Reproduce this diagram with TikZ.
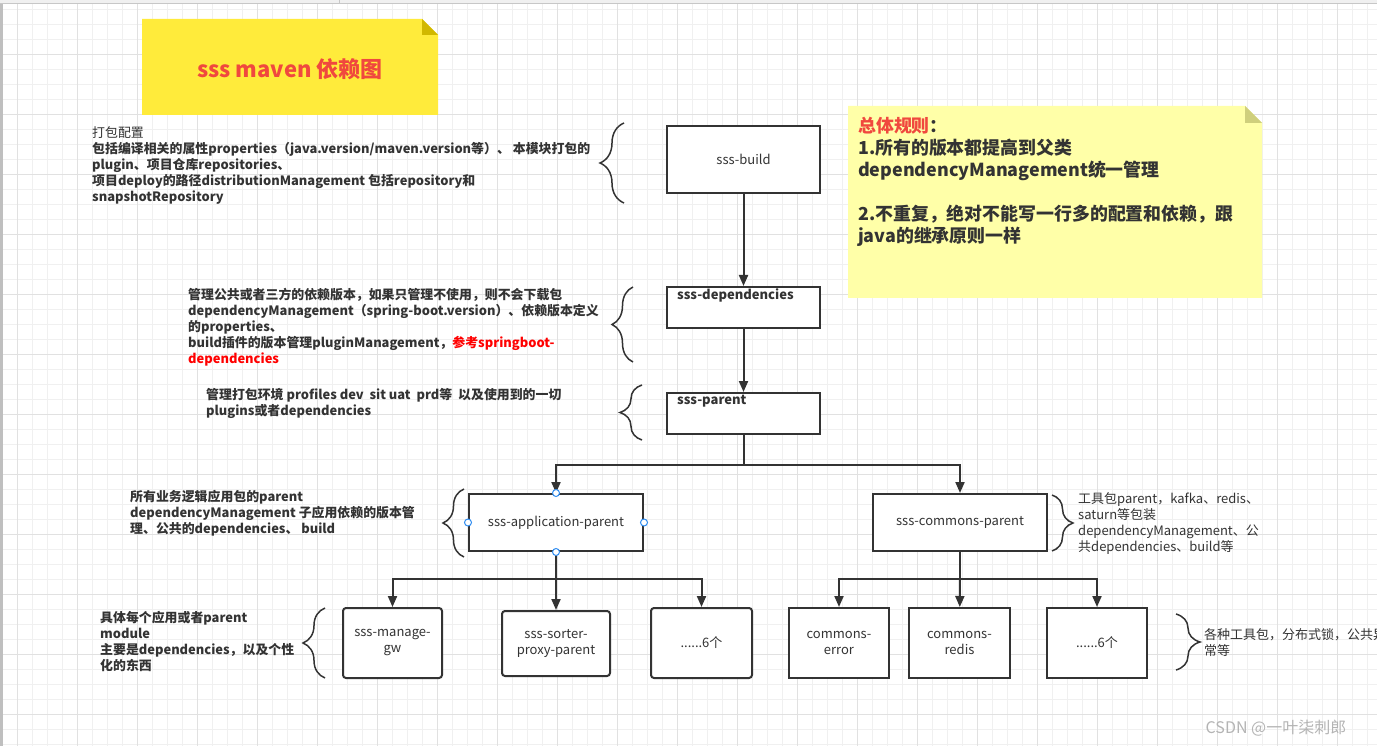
\documentclass[tikz,border=0pt]{standalone}
\usepackage{fontspec}
\setmainfont{Noto Sans CJK SC}
\usetikzlibrary{arrows.meta,decorations.pathreplacing}
\definecolor{ink}{HTML}{333333}
\definecolor{gridlight}{HTML}{F0F0F0}
\definecolor{griddark}{HTML}{E1E1E1}
\definecolor{titleyellow}{HTML}{FFEB3B}
\definecolor{titlefold}{HTML}{D1B800}
\definecolor{titlered}{HTML}{F0483E}
\definecolor{noteyellow}{HTML}{FFFFA8}
\definecolor{notefold}{HTML}{CFCF7C}
\definecolor{handleblue}{HTML}{2F8CF0}
\definecolor{markgray}{HTML}{B4B4B4}

\begin{document}
\begin{tikzpicture}[x=1pt,y=-1pt,
    box/.style={draw=ink,line width=2pt,fill=white,text=ink,inner sep=0pt,align=center,font=\fontsize{13}{16}\selectfont},
    leaf/.style={box,rounded corners=3pt},
    boxtitle/.style={anchor=north west,inner sep=0pt,text=ink,font=\fontsize{13}{16}\selectfont\bfseries},
    arr/.style={draw=ink,line width=2pt,-{Triangle[length=11pt,width=9pt]}},
    link/.style={draw=ink,line width=2pt},
    curly/.style={draw=ink,line width=1.5pt,decorate,decoration={brace,amplitude=#1}},
    ann/.style={text=ink,anchor=west,align=left,inner sep=0pt,font=\fontsize{12.9}{16}\selectfont\bfseries},
    annlight/.style={text=ink,anchor=west,align=left,inner sep=0pt,font=\fontsize{13}{16}\selectfont},
    handle/.style={draw=handleblue,fill=white,line width=1pt}]
    \useasboundingbox (0,0) rectangle (1377,746);
    \fill[white] (0,0) rectangle (1377,746);
    \foreach \x in {2,17,...,1377} \draw[gridlight,line width=0.8pt] (\x,0) -- (\x,746);
    \foreach \y in {9,24,...,746} \draw[gridlight,line width=0.8pt] (0,\y) -- (1377,\y);
    \foreach \x in {17,77,...,1377} \draw[griddark,line width=0.8pt] (\x,0) -- (\x,746);
    \foreach \y in {54,114,...,746} \draw[griddark,line width=0.8pt] (0,\y) -- (1377,\y);
    \fill[black!6] (0,0) rectangle (1377,3);
    \draw[black!22] (0,3.5) -- (1377,3.5);
    \draw[black!22] (339,0) -- (339,3.5);
    \fill[black!25] (0,4) rectangle (3,746);

    \fill[titleyellow] (142,19) -- (422,19) -- (438,35) -- (438,115) -- (142,115) -- cycle;
    \fill[titlefold] (422,19) -- (438,35) -- (422,35) -- cycle;
    \node[text=titlered,font=\fontsize{22}{24}\selectfont\bfseries] (title) at (290,69) {sss maven 依赖图};

    \fill[noteyellow] (848,106) -- (1245,106) -- (1262,123) -- (1262,298) -- (848,298) -- cycle;
    \fill[notefold] (1245,106) -- (1262,123) -- (1245,123) -- cycle;
    \node[anchor=north west,inner sep=0pt,align=left,text=ink,font=\fontsize{17.9}{22}\selectfont\bfseries] (rules) at (858,117)
        {\textcolor{titlered}{总体规则}：\\1.所有的版本都提高到父类\\dependencyManagement统一管理\\[22pt]2.不重复，绝对不能写一行多的配置和依赖，跟\\java的继承原则一样};

    \node[box,minimum width=153pt,minimum height=67pt] (build) at (743.5,159.5) {sss-build};
    \node[box,minimum width=153pt,minimum height=41pt] (deps) at (743.5,307.5) {};
    \node[boxtitle] (depstitle) at ([shift={(11,2)}]deps.north west) {sss-dependencies};
    \node[box,minimum width=153pt,minimum height=41pt] (parent) at (743.5,413.5) {};
    \node[boxtitle] (parenttitle) at ([shift={(11,3)}]parent.north west) {sss-parent};
    \node[box,minimum width=174pt,minimum height=57pt] (app) at (556,522.5) {sss-application-parent};
    \node[box,minimum width=174pt,minimum height=57pt] (commons) at (960,522.5) {sss-commons-parent};
    \node[leaf,minimum width=99pt,minimum height=70pt] (gw) at (392.5,643) {sss-manage-\\gw};
    \node[leaf,minimum width=108pt,minimum height=65pt] (sorter) at (556,643.5) {sss-sorter-\\proxy-parent};
    \node[leaf,minimum width=101pt,minimum height=70pt] (more1) at (701.5,643) {......6个};
    \node[box,minimum width=100pt,minimum height=70pt] (error) at (839,643) {commons-\\error};
    \node[box,minimum width=101pt,minimum height=70pt] (redis) at (959.5,643) {commons-\\redis};
    \node[box,minimum width=100pt,minimum height=70pt] (more2) at (1097,643) {......6个};

    \coordinate (fork1) at (743.5,465);
    \coordinate (fork2) at (556,579);
    \coordinate (fork3) at (960,579);
    \draw[arr] (build) -- (deps);
    \draw[arr] (deps) -- (parent);
    \draw[link] (parent) -- (fork1);
    \draw[arr] (fork1) -| (app.north);
    \draw[arr] (fork1) -| (commons.north);
    \draw[link] (app) -- (fork2);
    \draw[arr] (fork2) -| (gw.north);
    \draw[arr] (fork2) -- (sorter);
    \draw[arr] (fork2) -| (more1.north);
    \draw[link] (commons) -- (fork3);
    \draw[arr] (fork3) -| (error.north);
    \draw[arr] (fork3) -- (redis);
    \draw[arr] (fork3) -| (more2.north);
    \foreach \a in {north,south,east,west} \draw[handle] (app.\a) circle (3.5pt);

    \draw[curly=24pt] (624,203) -- (624,123);
    \draw[curly=21pt] (633,362) -- (633,287);
    \draw[curly=22pt] (642,440) -- (642,385);
    \draw[curly=21pt] (464,557) -- (464,489);
    \draw[curly=21pt] (1052,495) -- (1052,551);
    \draw[curly=22pt] (325,678) -- (325,608);
    \draw[curly=24pt] (1176,614) -- (1176,670);

    \node[ann] (buildnote) at (92,165) {{\mdseries 打包配置}\\包括编译相关的属性properties（java.version/maven.version等）、 本模块打包的\\plugin、项目仓库repositories、\\项目deploy的路径distributionManagement 包括repository和\\snapshotRepository};
    \node[ann] (depsnote) at (188,327) {管理公共或者三方的依赖版本，如果只管理不使用，则不会下载包\\dependencyManagement（spring-boot.version）、依赖版本定义\\的properties、\\build插件的版本管理pluginManagement，\textcolor{red}{参考springboot-}\\\textcolor{red}{dependencies}};
    \node[ann] (parentnote) at (206,403) {管理打包环境 profiles dev\ \ sit uat\ \ prd等\ \ 以及使用到的一切\\plugins或者dependencies};
    \node[ann] (appnote) at (130,513.5) {所有业务逻辑应用包的parent\\dependencyManagement 子应用依赖的版本管\\理、公共的dependencies、 build};
    \node[annlight] (commonsnote) at (1078,523) {工具包parent，kafka、redis、\\saturn等包装\\dependencyManagement、公\\共dependencies、build等};
    \node[ann] (leafnote) at (100,641) {具体每个应用或者parent\\module\\主要是dependencies，以及个性\\化的东西};
    \node[annlight] (toolnote) at (1204,643) {各种工具包，分布式锁，公共异\\常等};
    \node[text=markgray,font=\fontsize{16}{18}\selectfont] (mark) at (1276,728) {CSDN @一叶柒刺郎};
\end{tikzpicture}
\end{document}
